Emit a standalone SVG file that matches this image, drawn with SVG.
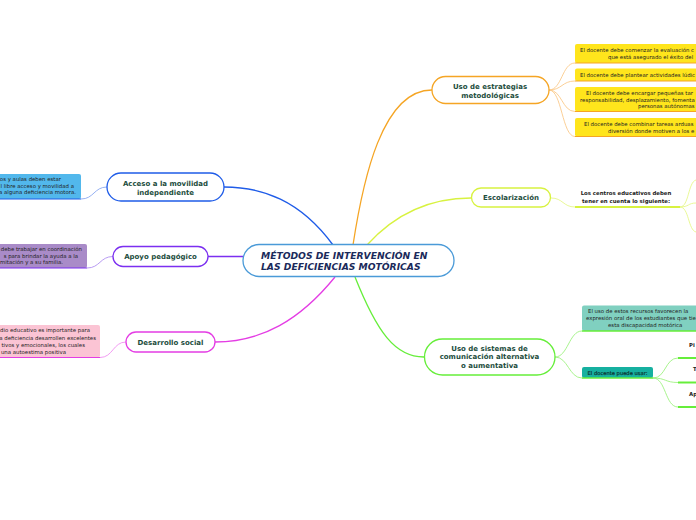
<svg xmlns="http://www.w3.org/2000/svg" width="696" height="520" viewBox="0 0 696 520">
<style>
.node{fill:#fff;stroke-width:1.3}
.lbl{font-family:"DejaVu Sans",Verdana,sans-serif;font-weight:bold;font-size:7px;fill:#1d4d3d;text-anchor:middle}
.main{font-family:"DejaVu Sans",Verdana,sans-serif;font-weight:bold;font-style:italic;font-size:9.2px;fill:#1a2a5a}
.nt{font-family:"DejaVu Sans",Verdana,sans-serif;font-size:5.4px;fill:#222}
.ntb{font-family:"DejaVu Sans",Verdana,sans-serif;font-size:5.4px;font-weight:bold;fill:#222}
.c{fill:none}
</style>
<rect width="696" height="520" fill="#fff"/>
<g id="connectors">
<path class="c" d="M333,245 C300,200 262,187 224,187" stroke="#1f5ce8" stroke-width="1.3"/>
<path class="c" d="M243,256.5 L208,256.5" stroke="#7b2ff0" stroke-width="1.3"/>
<path class="c" d="M335,277 C300,320 262,342 215,342" stroke="#e43de4" stroke-width="1.3"/>
<path class="c" d="M353,245 C363,180 382,90 432,90" stroke="#f5a524" stroke-width="1.3"/>
<path class="c" d="M367,245 C395,214 430,198 471,198" stroke="#d8f240" stroke-width="1.3"/>
<path class="c" d="M355,277 C377,332 395,357 424,357" stroke="#66ee3a" stroke-width="1.3"/>
<path class="c" d="M107,187 C94,187 94,199 81,199" stroke="#8aa8f0" stroke-width="0.9"/>
<path class="c" d="M113,256.5 C100,256.5 100,268 87,268" stroke="#b090f0" stroke-width="0.9"/>
<path class="c" d="M126,342 C113,342 113,357.5 100,357.5" stroke="#f090f0" stroke-width="0.9"/>
<g stroke="#fbc98a" stroke-width="0.9">
<path class="c" d="M549,90 C562,90 562,63 575,63"/>
<path class="c" d="M549,90 C562,90 562,81 575,81"/>
<path class="c" d="M549,90 C562,90 562,111.5 575,111.5"/>
<path class="c" d="M549,90 C562,90 562,136.5 575,136.5"/>
</g>
<g stroke="#e6f78a" stroke-width="0.9">
<path class="c" d="M551,198 C563,198 563,207 575,207"/>
<path class="c" d="M680,207 C689,207 688,182 696,180"/>
<path class="c" d="M680,207 C689,207 688,203 696,203"/>
<path class="c" d="M680,207 C689,207 688,230 696,232"/>
</g>
<g stroke="#9ef280" stroke-width="0.9">
<path class="c" d="M555,357 C568,357 569,331 582,331"/>
<path class="c" d="M555,357 C568,357 569,378 582,378"/>
<path class="c" d="M653,378 C666,378 665,358 678,358"/>
<path class="c" d="M653,378 C666,378 665,382.5 678,382.5"/>
<path class="c" d="M653,378 C666,378 665,407 678,407"/>
</g>
</g>
<g id="center">
<rect class="node" x="243" y="244.5" width="211" height="32" rx="16" stroke="#4a9ad8"/>
<text class="main" x="261" y="259">MÉTODOS DE INTERVENCIÓN EN</text>
<text class="main" x="261" y="269.5">LAS DEFICIENCIAS MOTÓRICAS</text>
</g>
<g id="acceso">
<rect class="node" x="107" y="173" width="117" height="28" rx="14" stroke="#1f5ce8"/>
<text class="lbl" x="165.5" y="185.5">Acceso a la movilidad</text>
<text class="lbl" x="165.5" y="194.5">independiente</text>
</g>
<g id="acceso-note">
<rect x="-10" y="174" width="91" height="25" rx="2" fill="#52b8ec"/>
<line x1="0" y1="199" x2="81" y2="199" stroke="#1f5ce8" stroke-width="1.2"/>
<text class="nt" x="61" y="181" text-anchor="end">os y aulas deben estar</text>
<text class="nt" x="74" y="187.5" text-anchor="end">l libre acceso y movilidad a</text>
<text class="nt" x="76" y="194" text-anchor="end">a alguna deficiencia motora.</text>
</g>
<g id="apoyo">
<rect class="node" x="113" y="246.5" width="95" height="20" rx="10" stroke="#7b2ff0"/>
<text class="lbl" x="160.5" y="259">Apoyo pedagógico</text>
</g>
<g id="apoyo-note">
<rect x="-10" y="244" width="97" height="24" rx="2" fill="#a98bc8"/>
<line x1="0" y1="268" x2="87" y2="268" stroke="#7b2ff0" stroke-width="1.2"/>
<text class="nt" x="82" y="251" text-anchor="end">debe trabajar en coordinación</text>
<text class="nt" x="78" y="257.5" text-anchor="end">s para brindar la ayuda a la</text>
<text class="nt" x="63" y="264" text-anchor="end">mitación y a su familia.</text>
</g>
<g id="desarrollo">
<rect class="node" x="126" y="332" width="89" height="20" rx="10" stroke="#e43de4"/>
<text class="lbl" x="170.5" y="344.5">Desarrollo social</text>
</g>
<g id="desarrollo-note">
<rect x="-10" y="325" width="110" height="32.5" rx="2" fill="#fbc4d4"/>
<line x1="0" y1="357.5" x2="100" y2="357.5" stroke="#e43de4" stroke-width="1.2"/>
<text class="nt" x="90" y="332" text-anchor="end">dio educativo es importante para</text>
<text class="nt" x="96" y="339.5" text-anchor="end">a deficiencia desarrollen excelentes</text>
<text class="nt" x="85" y="347" text-anchor="end">tivos y emocionales, los cuales</text>
<text class="nt" x="66" y="354" text-anchor="end">una autoestima positiva</text>
</g>
<g id="estrategias">
<rect class="node" x="432" y="76.5" width="117" height="27" rx="13.5" stroke="#f5a524"/>
<text class="lbl" x="490" y="88.5">Uso de estrategias</text>
<text class="lbl" x="490" y="97.5">metodológicas</text>
</g>
<g id="estrategias-notes">
<rect x="575" y="44" width="130" height="19" rx="2" fill="#ffe51c"/>
<line x1="575" y1="63" x2="696" y2="63" stroke="#f5a524" stroke-width="1.2"/>
<text class="nt" x="580" y="51.5">El docente debe comenzar la evaluación c</text>
<text class="nt" x="608" y="58.5">que está asegurado el éxito del</text>
<rect x="575" y="68.5" width="130" height="12.5" rx="2" fill="#ffe51c"/>
<line x1="575" y1="81" x2="696" y2="81" stroke="#f5a524" stroke-width="1.2"/>
<text class="nt" x="580" y="76.5">El docente debe plantear actividades lúdic</text>
<rect x="575" y="87" width="130" height="24.5" rx="2" fill="#ffe51c"/>
<line x1="575" y1="111.5" x2="696" y2="111.5" stroke="#f5a524" stroke-width="1.2"/>
<text class="nt" x="586" y="94.5">El docente debe encargar pequeñas tar</text>
<text class="nt" x="580" y="101.5">responsabilidad, desplazamiento, fomenta</text>
<text class="nt" x="638" y="108">personas autónomas</text>
<rect x="575" y="118" width="130" height="18.5" rx="2" fill="#ffe51c"/>
<line x1="575" y1="136.5" x2="696" y2="136.5" stroke="#f5a524" stroke-width="1.2"/>
<text class="nt" x="584" y="125.5">El docente debe combinar tareas arduas</text>
<text class="nt" x="608" y="132.5">diversión donde motiven a los e</text>
</g>
<g id="escolarizacion">
<rect class="node" x="471.5" y="188" width="79" height="19" rx="9.5" stroke="#d8f240"/>
<text class="lbl" x="511" y="200">Escolarización</text>
</g>
<g id="centros">
<line x1="575" y1="207" x2="680" y2="207" stroke="#d8f240" stroke-width="2"/>
<text class="ntb" x="626" y="195" text-anchor="middle">Los centros educativos deben</text>
<text class="ntb" x="626" y="202.5" text-anchor="middle">tener en cuenta lo siguiente:</text>
</g>
<g id="sistemas">
<rect class="node" x="424.5" y="339" width="130.5" height="36" rx="18" stroke="#66ee3a"/>
<text class="lbl" x="489.5" y="350.5">Uso de sistemas de</text>
<text class="lbl" x="489.5" y="359">comunicación alternativa</text>
<text class="lbl" x="489.5" y="367.5">o aumentativa</text>
</g>
<g id="sistemas-note">
<rect x="582" y="305.5" width="120" height="25.5" rx="2" fill="#80d0c0"/>
<line x1="582" y1="331" x2="696" y2="331" stroke="#66ee3a" stroke-width="1.5"/>
<text class="nt" x="588" y="313">El uso de estos recursos favorecen la</text>
<text class="nt" x="586" y="319.5">expresión oral de los estudiantes que tie</text>
<text class="nt" x="608" y="326.5">esta discapacidad motórica</text>
</g>
<g id="docente-usar">
<rect x="582" y="367" width="71" height="11" rx="2" fill="#16b0a0"/>
<line x1="582" y1="378" x2="653" y2="378" stroke="#66ee3a" stroke-width="1.5"/>
<text class="nt" x="617.5" y="374.5" text-anchor="middle" style="font-size:5.2px;fill:#0b2e2a;stroke:#0b2e2a;stroke-width:0.15">El docente puede usar:</text>
</g>
<g id="usar-items">
<line x1="678" y1="358" x2="696" y2="358" stroke="#66ee3a" stroke-width="2"/>
<text class="ntb" x="689" y="347">Pi</text>
<line x1="678" y1="382.5" x2="696" y2="382.5" stroke="#66ee3a" stroke-width="2"/>
<text class="ntb" x="693" y="371">T</text>
<line x1="678" y1="407" x2="696" y2="407" stroke="#66ee3a" stroke-width="2"/>
<text class="ntb" x="689" y="396">Ap</text>
</g>
</svg>
